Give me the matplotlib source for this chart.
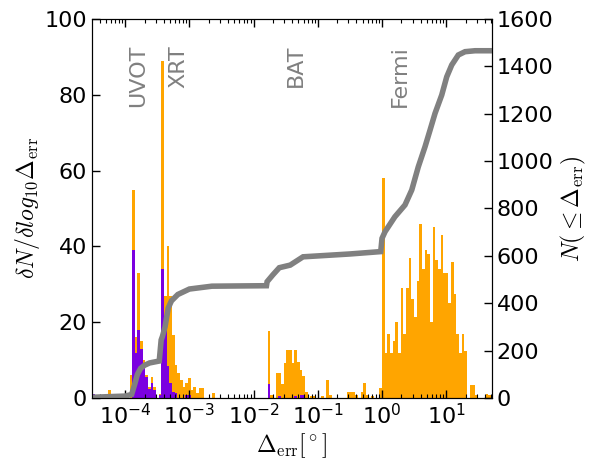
import numpy as np
import matplotlib
matplotlib.use("Agg")
import matplotlib.pyplot as plt
from matplotlib.ticker import LogLocator, NullFormatter

# ---- data ----
bin_width_dex = 0.0414          # histogram bin width in log10 units
k_start = -110                  # index of first bin (left edge = k*bin_width_dex)

# orange histogram (all), per bin from k=-110 upward
orange = [
    1, 1, 0, 0, 0, 0, 0, 2, 0, 0,            # -110..-101
    0, 1, 0, 1, 0, 6, 55, 16, 33, 15,        # -100..-91
    10, 6, 3, 5.5, 3, 0, 1, 89, 27, 40,      # -90..-81
    27, 16.6, 8.7, 6.5, 4.7, 3, 3.9, 5.2, 2.1, 3,   # -80..-71
    1.2, 2.6, 2.6, 0, 0, 0, 1.4, 0, 0, 0,    # -70..-61
    0, 0, 0, 0, 0, 0, 0, 0, 0, 0,            # -60..-51
    0, 0, 0, 0, 0, 0, 0, 17.8, 0.8, 0,       # -50..-41
    6.7, 6.7, 3.7, 9.1, 12.7, 12.7, 9.1, 12.7, 9.6, 7.4,  # -40..-31
    5.8, 1.7, 0, 0.5, 0.5, 0, 0, 0.5, 0, 4.7,  # -30..-21
    0.8, 0, 0, 0, 0, 0, 0, 1.7, 1.7, 1.7,    # -20..-11
    0.8, 0, 1.7, 4, 0.8, 0, 0.5, 0, 0, 2.6,  # -10..-1
    58, 12, 17, 12, 15, 20, 12, 29, 17, 29,  # 0..9
    37, 26, 21.5, 31, 46, 34, 39, 38, 20, 45,  # 10..19
    36.5, 34, 43, 33, 33, 25, 36, 27.5, 17, 12,  # 20..29
    17, 12.5, 0, 3.5, 3.5, 0.7, 0, 0, 0, 1,  # 30..39
    0.8, 0,                                  # 40..41
]

# purple histogram (subset), same bins
purple = [
    1, 1, 0, 0, 0, 0, 0, 0.7, 0, 0,          # -110..-101
    0, 1, 0, 1, 0, 0, 39, 12, 18, 13,        # -100..-91
    8, 5.5, 2.5, 4, 2, 0, 0.8, 34, 19, 8.5,  # -90..-81
    4, 1.5, 1.2, 0, 0, 0, 0.8, 0.8, 0, 0,    # -80..-71
    0, 0, 0, 0, 0, 0, 0, 0, 0, 0,            # -70..-61
    0, 0, 0, 0, 0, 0, 0, 0, 0, 0,            # -60..-51
    0, 0, 0, 0, 0, 0, 0, 3.7, 0, 0,          # -50..-41
    0, 0.5, 0, 0, 0, 0, 0, 0.5, 0, 0.7,      # -40..-31
    0.7, 0, 0, 0, 0, 0, 0, 0, 0, 0,          # -30..-21
    0, 0, 0, 0, 0, 0, 0, 0, 0, 0,            # -20..-11
    0, 0, 0, 0, 0, 0, 0, 0, 0, 0,            # -10..-1
    0, 0, 0, 0, 0, 0, 0, 0, 0, 0,            # 0..9
    0, 0, 0, 0, 0, 0, 0, 0, 0, 0,            # 10..19
    0, 0, 0, 0, 0, 0, 0, 0, 0, 0,            # 20..29
    0, 0, 0, 0, 0, 0, 0, 0, 0, 0,            # 30..39
    0, 0,                                    # 40..41
]

# cumulative N(<=Delta_err): log10(Delta_err) and N
cum_logx = [-4.52, -4.0, -3.90, -3.85, -3.81, -3.76, -3.70, -3.62, -3.47,
            -3.44, -3.42, -3.38, -3.33, -3.28, -3.18, -3.0, -2.65, -1.80,
            -1.79, -1.70, -1.60, -1.43, -1.23, -0.50, -0.02, 0.0, 0.047,
            0.20, 0.358, 0.463, 0.565, 0.67, 0.748, 0.826, 0.93, 1.008,
            1.086, 1.188, 1.293, 1.449, 1.72]
cum_n = [3, 8, 15, 60, 100, 125, 138, 148, 156,
         245, 260, 300, 380, 410, 437, 460, 472, 474,
         491, 520, 550, 561, 596, 608, 618, 674, 702,
         765, 815, 878, 976, 1061, 1131, 1202, 1279, 1356,
         1406, 1448, 1462, 1466, 1466]

instruments = ["UVOT", "XRT", "BAT", "Fermi"]
instr_logx = [-3.80, -3.18, -1.34, 0.28]

x_limits_log = (-4.517, 1.713)
left_ylim = (0, 100)
right_ylim = (0, 1600)

# ---- figure ----
plt.rcParams['font.family'] = ['DejaVu Sans']
fig = plt.figure(figsize=(5.91, 4.68), dpi=100)
ax = fig.add_axes([0.1557, 0.1496, 0.6768, 0.8098])

orange_c = '#FFA500'
purple_c = '#7B00E0'
gray_c = '#808080'

edges = 10.0 ** (np.arange(k_start, k_start + len(orange) + 1) * bin_width_dex)
ax.stairs(orange, edges, fill=True, color=orange_c, linewidth=0)
ax.stairs(purple, edges, fill=True, color=purple_c, linewidth=0)

ax.set_xscale('log')
ax.set_xlim(10 ** x_limits_log[0], 10 ** x_limits_log[1])
ax.xaxis.set_major_locator(LogLocator(base=10, numticks=20))
ax.xaxis.set_minor_locator(LogLocator(base=10, subs=np.arange(2, 10), numticks=20))
ax.xaxis.set_minor_formatter(NullFormatter())
ax.set_ylim(*left_ylim)
ax.set_yticks([0, 20, 40, 60, 80, 100])

ax.tick_params(axis='both', which='both', direction='in', labelsize=16)
ax.tick_params(axis='x', which='both', top=True)
ax.tick_params(which='major', length=6, width=1)
ax.tick_params(which='minor', length=3, width=0.8)

ax.set_ylabel(r'$\delta N/\delta log_{10}\Delta_{\rm err}$', fontsize=17,
              math_fontfamily='cm', labelpad=2)
ax.set_xlabel(r'$\Delta_{\rm err}[^\circ]$', fontsize=17, math_fontfamily='cm',
              labelpad=2)

for name, lx in zip(instruments, instr_logx):
    ax.text(10 ** lx, 93.2, name, rotation=90, ha='center', va='top',
            fontsize=16, color=gray_c)

ax2 = ax.twinx()
ax2.plot(10.0 ** np.array(cum_logx), cum_n, color=gray_c, lw=4,
         solid_joinstyle='miter')
ax2.set_ylim(*right_ylim)
ax2.set_yticks(np.arange(0, 1601, 200))
ax2.set_xlim(10 ** x_limits_log[0], 10 ** x_limits_log[1])
ax2.tick_params(axis='y', direction='in', labelsize=16, length=6, width=1)
ax2.set_ylabel(r'$N(\leq\Delta_{\rm err})$', fontsize=17, math_fontfamily='cm',
               labelpad=4)

fig.savefig('out.png', dpi=100)
